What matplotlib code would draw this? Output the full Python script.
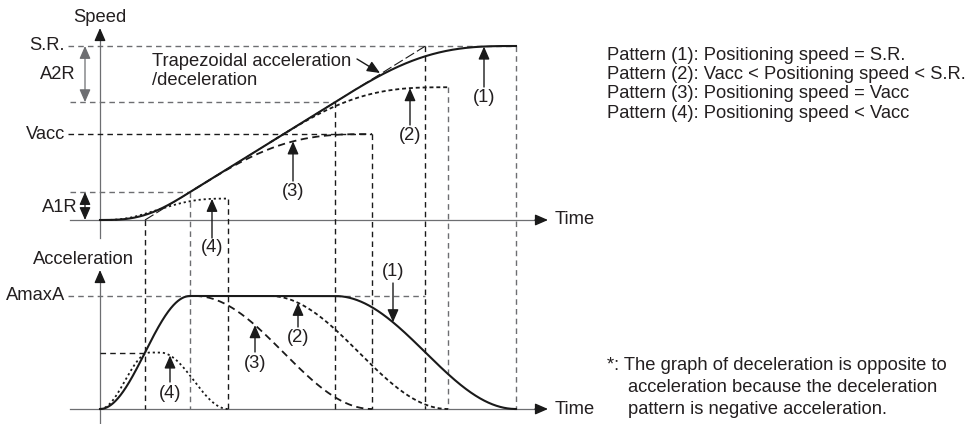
import numpy as np
import matplotlib.pyplot as plt

plt.rcParams['font.family'] = ['Liberation Sans', 'DejaVu Sans']

# acceleration patterns, time breakpoints in drawing units
labels = ["(1)", "(2)", "(3)", "(4)"]
rise_end = [90, 90, 90, 50]
fall_start = [235, 170, 95, 60]
fall_end = [416, 348, 272, 128]
peak = [1.0, 1.0, 1.0, 0.5]
styles = ["-", (0, (2.2, 1.6)), (0, (4, 2.5)), (0, (1.2, 1.6))]

AMAX_H = 113      # height of AmaxA in the lower graph
SR_H = 174        # height of S.R. in the upper graph
ACC_BASE = -189   # time axis of the lower graph

# where the "(n)" labels sit, and which time their arrow points at
spd_lbl_t = [384, 310, 193, 112]
spd_lbl_y = [123, 85, 29, -28]
acc_lbl_t = [293, 198, 155, 70]
acc_lbl_y = [-52, -118, -143, -173]

pattern_text = ["Pattern (1): Positioning speed = S.R.",
                "Pattern (2): Vacc < Positioning speed < S.R.",
                "Pattern (3): Positioning speed = Vacc",
                "Pattern (4): Positioning speed < Vacc"]
note_text = ["*: The graph of deceleration is opposite to",
             "acceleration because the deceleration",
             "pattern is negative acceleration."]

TXT = "#231f20"
INK = "#1a1a1a"
GRAY = "#6d6e71"
FS = 13.2


def accel(t, i):
    a = np.zeros_like(t)
    r1, f0, f1, p = rise_end[i], fall_start[i], fall_end[i], peak[i]
    m = t < r1
    a[m] = p * (1 - np.cos(np.pi * t[m] / r1)) / 2
    m = (t >= r1) & (t < f0)
    a[m] = p
    m = (t >= f0) & (t <= f1)
    a[m] = p * (1 + np.cos(np.pi * (t[m] - f0) / (f1 - f0))) / 2
    return a


t_all = np.linspace(0, 420, 4201)
dt = t_all[1] - t_all[0]
acc = [accel(t_all, i) for i in range(4)]
spd = [np.concatenate([[0], np.cumsum((a[1:] + a[:-1]) / 2 * dt)]) for a in acc]
k = SR_H / spd[0][-1]
spd = [s * k for s in spd]


def at(arr, t):
    return float(np.interp(t, t_all, arr))


SR = SR_H
A1R_lvl = at(spd[0], rise_end[0])
A2R_lvl = at(spd[0], fall_start[0])
VACC = at(spd[2], fall_end[2])
END_SPD = [at(spd[i], fall_end[i]) for i in range(4)]

fig = plt.figure(figsize=(9.71, 4.24), dpi=100)
ax = fig.add_axes([0, 0, 1, 1])
ax.set_xlim(-100, 871)
ax.set_ylim(-204, 220)
ax.axis('off')

dash = dict(lw=1.0, ls=(0, (4, 3)))


def arrow(x0, y0, x1, y1, color=INK, both=False, lw=1.0):
    style = '<|-|>' if both else '-|>'
    ax.annotate('', xy=(x1, y1), xytext=(x0, y0),
                arrowprops=dict(arrowstyle=style + ',head_length=0.55,head_width=0.24',
                                color=color, lw=lw, shrinkA=0, shrinkB=0,
                                mutation_scale=14))


# axes of both graphs
ax.plot([0, 0], [-18, 185], color=GRAY, lw=0.9)
arrow(0, 180, 0, 192, color=INK)
ax.plot([-30, 440], [0, 0], color=GRAY, lw=0.9)
arrow(435, 0, 448, 0, color=INK)
ax.plot([0, 0], [-203, -57], color=GRAY, lw=0.9)
arrow(0, -62, 0, -50, color=INK)
ax.plot([-30, 440], [ACC_BASE, ACC_BASE], color=GRAY, lw=0.9)
arrow(435, ACC_BASE, 448, ACC_BASE, color=INK)

ax.text(0, 202, "Speed", ha='center', va='center', fontsize=FS, color=TXT)
ax.text(-17, -40, "Acceleration", ha='center', va='center', fontsize=FS, color=TXT)
ax.text(455, 0, "Time", ha='left', va='center', fontsize=FS, color=TXT)
ax.text(455, ACC_BASE, "Time", ha='left', va='center', fontsize=FS, color=TXT)

# speed levels
ax.plot([-32, fall_end[0]], [SR, SR], color=GRAY, **dash)
ax.plot([-30, fall_start[0]], [A2R_lvl, A2R_lvl], color=GRAY, **dash)
ax.plot([-32, fall_end[2]], [VACC, VACC], color=INK, **dash)
ax.plot([-30, rise_end[0]], [A1R_lvl, A1R_lvl], color=GRAY, **dash)
ax.text(-35, SR, "S.R.", ha='right', va='center', fontsize=FS, color=TXT)
ax.text(-35, VACC, "Vacc", ha='right', va='center', fontsize=FS, color=TXT)
ax.text(-42, (SR + A2R_lvl) / 2, "A2R", ha='center', va='center', fontsize=FS, color=TXT)
ax.text(-22, A1R_lvl / 2 - 1, "A1R", ha='right', va='center', fontsize=FS, color=TXT)
arrow(-15, SR, -15, A2R_lvl, color=GRAY, both=True, lw=0.9)
arrow(-15, A1R_lvl, -15, 0, color=INK, both=True, lw=0.9)

# trapezoidal reference line
t0 = rise_end[0] / 2
t_sr = t0 + SR / k
ax.plot([t0, t_sr], [0, SR], color=INK, lw=0.8, ls=(0, (9, 3)))
ax.text(52, 149, "Trapezoidal acceleration\n/deceleration", ha='left', va='center',
        fontsize=FS, color=TXT, linespacing=1.1)
arrow(257, 161, 280, 147)

# vertical guides through both graphs
guides = [(t0, 0, INK), (rise_end[0], A1R_lvl, GRAY), (fall_end[3], END_SPD[3], INK),
          (fall_start[0], A2R_lvl, INK), (fall_end[2], VACC, INK),
          (t_sr, SR, INK), (fall_end[1], END_SPD[1], GRAY),
          (fall_end[0], SR, GRAY)]
for gx, gy, c in guides:
    ax.plot([gx, gx], [gy, ACC_BASE], color=c, **dash)

# acceleration levels
amax_y = ACC_BASE + AMAX_H
half_y = ACC_BASE + AMAX_H * peak[3]
ax.plot([-32, rise_end[0]], [amax_y, amax_y], color=GRAY, **dash)
ax.plot([fall_start[0], t_sr], [amax_y, amax_y], color=GRAY, **dash)
ax.plot([0, t0], [half_y, half_y], color=INK, **dash)
ax.text(-35, amax_y, "AmaxA", ha='right', va='center', fontsize=FS, color=TXT)

# curves
for i in [3, 2, 1, 0]:
    start = 0 if i in (0, 3) else fall_start[i]
    m = (t_all >= start) & (t_all <= fall_end[i])
    lw = 1.5 if i == 0 else 1.3
    ax.plot(t_all[m], spd[i][m], color=INK, lw=lw, ls=styles[i], zorder=5 - i)
    ax.plot(t_all[m], ACC_BASE + AMAX_H * acc[i][m], color=INK, lw=lw, ls=styles[i],
            zorder=5 - i)

# pattern callouts
for i in range(4):
    tx, ty = spd_lbl_t[i], spd_lbl_y[i]
    ax.text(tx, ty, labels[i], ha='center', va='center', fontsize=FS, color=TXT)
    arrow(tx, ty + 10, tx, at(spd[i], tx))
    tx, ty = acc_lbl_t[i], acc_lbl_y[i]
    ax.text(tx, ty, labels[i], ha='center', va='center', fontsize=FS, color=TXT)
    ay = ACC_BASE + AMAX_H * at(acc[i], tx)
    if ay < ty:
        arrow(tx, ty - 11, tx, ay)
    else:
        arrow(tx, ty + 11, tx, ay)

for j, s in enumerate(pattern_text):
    ax.text(507, 165 - 19.5 * j, s, ha='left', va='center', fontsize=FS, color=TXT)

ax.text(507, -145, note_text[0], ha='left', va='center', fontsize=FS, color=TXT)
for j, s in enumerate(note_text[1:]):
    ax.text(528, -168 - 22 * j, s, ha='left', va='center', fontsize=FS, color=TXT)

fig.savefig("out.png", dpi=100)
